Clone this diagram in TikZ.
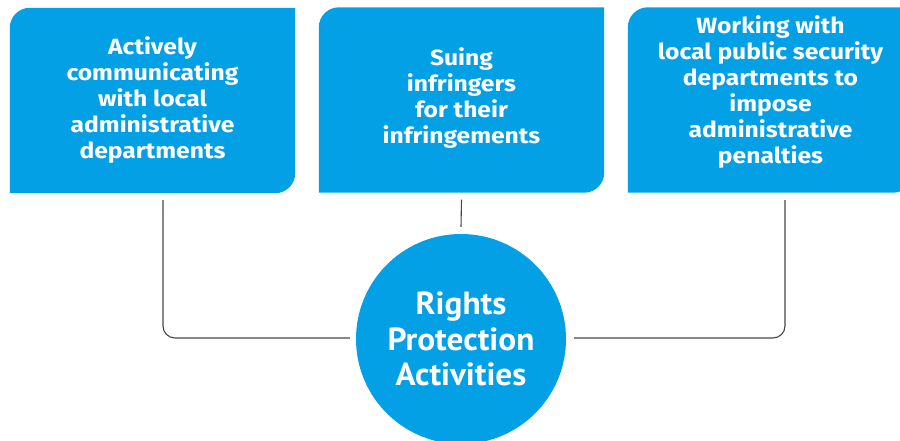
\documentclass[tikz,border=0pt]{standalone}
\usepackage{fontspec}
\setmainfont{Fira Sans}[FakeStretch=1.12]
\newfontfamily\hubfont{PT Sans}[FakeStretch=1.04]
\usetikzlibrary{calc}
\definecolor{boxblue}{RGB}{3,160,230}
\definecolor{linegray}{RGB}{70,70,70}
\begin{document}
\begin{tikzpicture}[x=1pt,y=1pt,
  boxshape/.style={rectangle,minimum width=285pt,minimum height=185pt,inner sep=0pt},
  boxtext/.style={text=white,align=center,font=\fontsize{22}{26}\selectfont\bfseries},
  hubnode/.style={circle,fill=boxblue,minimum size=210pt,inner sep=0pt,text=white,align=center,
    font=\hubfont\fontsize{32}{35.7}\selectfont\bfseries},
  conn/.style={draw=linegray,line width=1.1pt,rounded corners=12pt}]
\useasboundingbox (0,0) rectangle (900,-441);
\clip (0,0) rectangle (900,-441);

% frames for the three measures
\node[boxshape] (b1) at (152.5,-100.5) {};
\node[boxshape] (b2) at (461.5,-100) {};
\node[boxshape] (b3) at (770.5,-100) {};

% blue panels: rounded top-left and bottom-right corners
\foreach \b in {b1,b2,b3}{
  \fill[boxblue] (\b.south west) -- ([yshift=-20pt]\b.north west)
    arc[start angle=180,end angle=90,radius=20pt] -- (\b.north east)
    -- ([yshift=20pt]\b.south east)
    arc[start angle=0,end angle=-90,radius=20pt] -- cycle;
}

\node[boxtext] (t1) at (b1.center) {Actively\\communicating\\with local\\administrative\\departments};
\node[boxtext] (t2) at ([yshift=2pt]b2.center) {Suing\\infringers\\for their\\infringements};
\node[boxtext] (t3) at ([yshift=8pt]b3.center) {Working with\\local public security\\departments to\\impose\\administrative\\penalties};

% central circle
\node[hubnode] (hub) at (461,-339) {Rights\\Protection\\Activities};

% connectors
\coordinate (l1) at (163,-200);
\coordinate (r1) at (785,-200);
\draw[conn] (l1) |- ([xshift=-6pt,yshift=1pt]hub.west);
\draw[conn] (r1) |- ([xshift=8pt,yshift=1pt]hub.east);
\draw[conn] ([yshift=-7pt]b2.south) -- ([yshift=7pt]hub.north);
\end{tikzpicture}
\end{document}
